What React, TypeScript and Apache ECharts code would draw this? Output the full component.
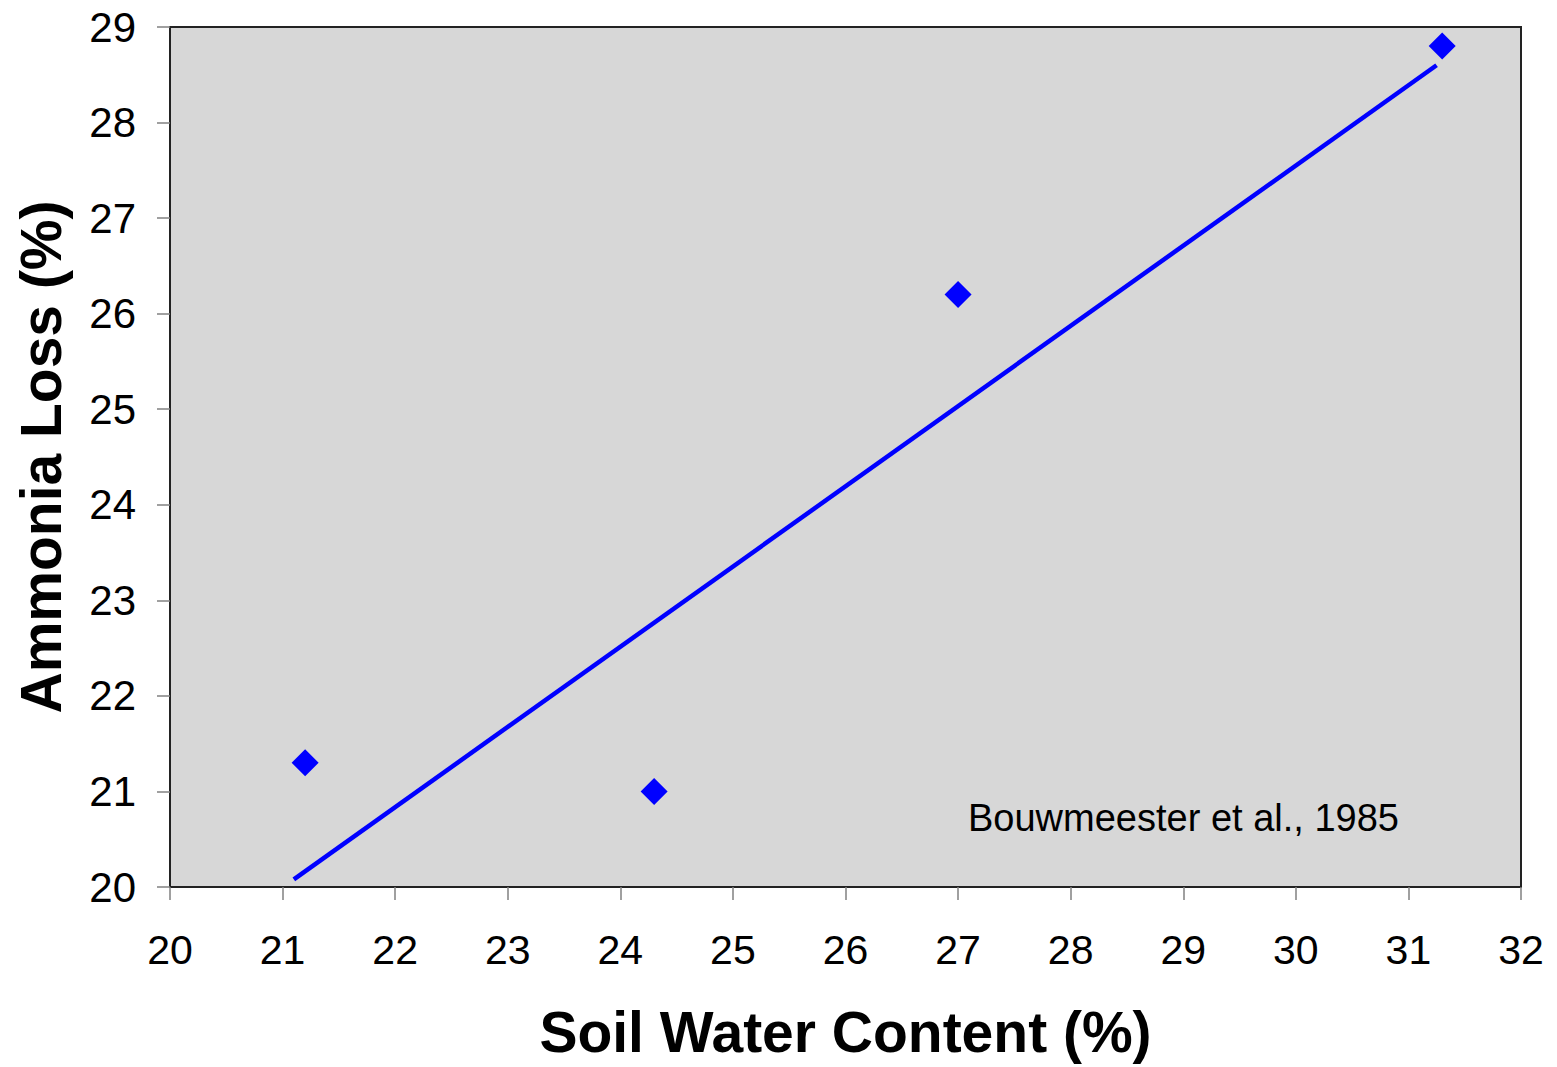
import React, { useEffect, useRef } from "react";
import * as echarts from "echarts";

const xTitle = "Soil Water Content (%)";
const yTitle = "Ammonia Loss (%)";
const note = "Bouwmeester et al., 1985";

// observed points [soil water content, ammonia loss]
const soilWater = [21.2, 24.3, 27.0, 31.3];
const ammoniaLoss = [21.3, 21.0, 26.2, 28.8];

// trend line end points as drawn
const trendX = [21.1, 31.25];
const trendY = [20.08, 28.6];

const xMin = 20, xMax = 32, xStep = 1;
const yMin = 20, yMax = 29, yStep = 1;

export default function App() {
  const ref = useRef<HTMLDivElement>(null);
  useEffect(() => {
    if (!ref.current) return;
    const chart = echarts.init(ref.current, null, { renderer: "svg" });
    const pts = soilWater.map((x, i) => [x, ammoniaLoss[i]]);
    const trend = trendX.map((x, i) => [x, trendY[i]]);
    const font = "Liberation Sans, Arial, sans-serif";
    chart.setOption({
      animation: false,
      backgroundColor: "#ffffff",
      textStyle: { fontFamily: font },
      grid: {
        left: 170,
        top: 27,
        right: 36,
        bottom: 180,
        show: true,
        backgroundColor: "#d7d7d7",
        borderColor: "#222",
        borderWidth: 2,
      },
      xAxis: {
        type: "value",
        min: xMin,
        max: xMax,
        interval: xStep,
        name: xTitle,
        nameLocation: "middle",
        nameGap: 116,
        nameTextStyle: { fontSize: 57, fontWeight: "bold", color: "#000", fontFamily: font },
        axisLine: { show: true, lineStyle: { color: "#222", width: 2 } },
        axisTick: { show: true, inside: false, length: 13, lineStyle: { color: "#808080", width: 1.5 } },
        axisLabel: { fontSize: 41, color: "#000", margin: 42 },
        splitLine: { show: false },
      },
      yAxis: {
        type: "value",
        min: yMin,
        max: yMax,
        interval: yStep,
        name: yTitle,
        nameLocation: "middle",
        nameGap: 101,
        nameRotate: 90,
        nameTextStyle: { fontSize: 57, fontWeight: "bold", color: "#000", fontFamily: font },
        axisLine: { show: true, lineStyle: { color: "#222", width: 2 } },
        axisTick: { show: true, inside: false, length: 13, lineStyle: { color: "#808080", width: 1.5 } },
        axisLabel: { fontSize: 42, color: "#000", margin: 34 },
        splitLine: { show: false },
      },
      graphic: [
        {
          type: "text",
          left: 968,
          top: 799,
          style: { text: note, fontSize: 38, fill: "#000", fontFamily: font },
          z: 10,
        },
      ],
      series: [
        {
          type: "line",
          data: trend,
          showSymbol: false,
          lineStyle: { color: "#0000ff", width: 4.5 },
          z: 2,
        },
        {
          type: "scatter",
          data: pts,
          symbol: "diamond",
          symbolSize: 27,
          itemStyle: { color: "#0000ff", opacity: 1 },
          z: 3,
        },
      ],
    });
    return () => chart.dispose();
  }, []);
  return (
    <div
      ref={ref}
      style={{ position: "fixed", left: 0, top: 0, width: 1557, height: 1067 }}
    />
  );
}
